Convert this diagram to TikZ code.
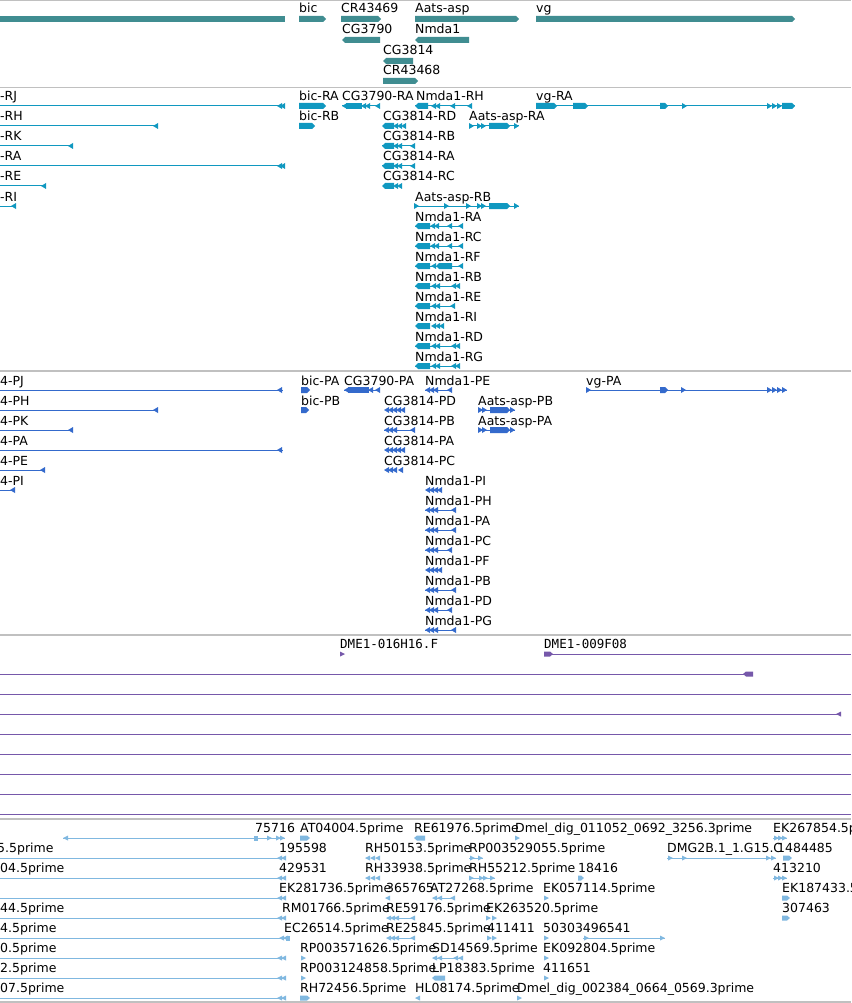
\documentclass[tikz,border=0pt]{standalone}
\usepackage{fontspec}
\newfontfamily\lfam{DejaVu Sans}
\newfontfamily\mfam{DejaVu Sans Mono}
\definecolor{cA}{RGB}{64,141,145}
\definecolor{cB}{RGB}{16,152,192}
\definecolor{cC}{RGB}{52,106,204}
\definecolor{cD}{RGB}{118,88,170}
\definecolor{cE}{RGB}{128,184,224}
\definecolor{sepc}{RGB}{192,192,192}
\def\hh{3}
\def\lo{5}
\newcommand\gIN[3]{\draw[line width=1pt] (#1,#3) -- (#2,#3);}
\newcommand\gEX[3]{\fill (#1,#3-\hh) rectangle (#2,#3+\hh);}
\newcommand\gER[3]{\fill (#1,#3-\hh) -- (#2-3,#3-\hh) -- (#2,#3) -- (#2-3,#3+\hh) -- (#1,#3+\hh) -- cycle;}
\newcommand\gEL[3]{\fill (#1,#3) -- (#1+3,#3-\hh) -- (#2,#3-\hh) -- (#2,#3+\hh) -- (#1+3,#3+\hh) -- cycle;}
\newcommand\gTL[2]{\fill (#1,#2) -- (#1+5,#2-\hh) -- (#1+5,#2+\hh) -- cycle;}
\newcommand\gTR[2]{\fill (#1,#2) -- (#1-5,#2-\hh) -- (#1-5,#2+\hh) -- cycle;}
\newcommand\gLB[3]{\node[lab] (L#1x#2) at (#1,#2-\lo) {#3};}
\newcommand\gLM[3]{\node[mlab] (M#1x#2) at (#1,#2-\lo) {#3};}
% repeated glyphs
\newcommand\cgB[1]{\gIN{382}{415}{#1}\gEL{382}{394}{#1}\gTL{393}{#1}\gTL{397}{#1}\gTL{410}{#1}}
\newcommand\nmA[1]{\gIN{415}{463}{#1}\gEL{415}{430}{#1}\gTL{430}{#1}\gTL{434}{#1}\gTL{447}{#1}\gTL{458}{#1}}
\newcommand\nmB[1]{\gIN{415}{460}{#1}\gEL{415}{430}{#1}\gTL{431}{#1}\gTL{435}{#1}\gTL{451}{#1}\gTL{455}{#1}}
\newcommand\cpD[1]{\gTL{384}{#1}\gTL{388}{#1}\gTL{392}{#1}\gTL{396}{#1}\gTL{400}{#1}}
\newcommand\aaP[1]{\gIN{478}{515}{#1}\gTR{483}{#1}\gTR{487}{#1}\gER{490}{510}{#1}\gTR{515}{#1}}
\newcommand\npL[1]{\gIN{425}{456}{#1}\gTL{425}{#1}\gTL{429}{#1}\gTL{433}{#1}\gTL{451}{#1}}
\newcommand\npM[1]{\gIN{425}{452}{#1}\gTL{425}{#1}\gTL{429}{#1}\gTL{433}{#1}\gTL{447}{#1}}
\newcommand\npS[1]{\gTL{425}{#1}\gTL{429}{#1}\gTL{433}{#1}\gTL{437}{#1}}
\newcommand\esL[1]{\gIN{0}{285}{#1}\gTL{277}{#1}\gTL{281}{#1}}
\begin{document}
\begin{tikzpicture}[x=1pt,y=-1pt,
  lab/.style={anchor=base west,inner sep=0pt,text=black,font=\lfam\fontsize{12.5}{14}\selectfont},
  mlab/.style={anchor=base west,inner sep=0pt,text=black,font=\mfam\fontsize{12.5}{14}\selectfont},
  sepl/.style={draw=sepc,line width=1.2pt}]
\useasboundingbox (0,0) rectangle (851,1003);
\fill[white] (0,0) rectangle (851,1003);
\clip (0,0) rectangle (851,1003);
% separators
\draw[sepl] (0,0.7) -- (851,0.7);
\draw[sepl] (0,87.5) -- (851,87.5);
\draw[sepl] (0,371) -- (851,371);
\draw[sepl] (0,635) -- (851,635);
\draw[sepl] (0,819) -- (851,819);
\draw[sepl] (0,1002) -- (851,1002);
% ---------------- genes
\def\lo{6}
\begin{scope}[color=cA]
\gEX{0}{285}{19}
\gER{299}{326}{19}\gLB{299}{19}{bic}
\gER{341}{381}{19}\gLB{341}{19}{CR43469}
\gER{415}{519}{19}\gLB{415}{19}{Aats-asp}
\gER{536}{795}{19}\gLB{536}{19}{vg}
\gEL{342}{380}{40}\gLB{342}{40}{CG3790}
\gEL{415}{469}{40}\gLB{415}{40}{Nmda1}
\gEL{383}{413}{61}\gLB{383}{61}{CG3814}
\gER{383}{418}{81}\gLB{383}{81}{CR43468}
\end{scope}
% ---------------- transcripts
\def\lo{5}
\begin{scope}[color=cB]
\gIN{0}{285}{106}\gTL{277}{106}\gTL{280}{106}\gLB{0}{106}{-RJ}
\gER{299}{326}{106}\gLB{299}{106}{bic-RA}
\gIN{342}{380}{106}\gTL{342}{106}\gEX{346}{362}{106}\gTL{361}{106}\gTL{365}{106}\gTL{375}{106}\gLB{342}{106}{CG3790-RA}
\gIN{415}{472}{106}\gEL{415}{428}{106}\gTL{431}{106}\gTL{435}{106}\gTL{450}{106}\gTL{467}{106}\gLB{416}{106}{Nmda1-RH}
\gIN{536}{795}{106}\gER{536}{557}{106}\gER{573}{588}{106}\gER{660}{668}{106}\gTR{687}{106}\gTR{772}{106}\gTR{777}{106}\gTR{782}{106}\gER{782}{795}{106}\gLB{536}{106}{vg-RA}
\gIN{0}{158}{126}\gTL{153}{126}\gLB{0}{126}{-RH}
\gER{299}{315}{126}\gLB{299}{126}{bic-RB}
\gEL{382}{394}{126}\gTL{393}{126}\gTL{397}{126}\gTL{401}{126}\gLB{383}{126}{CG3814-RD}
\gIN{469}{519}{126}\gTR{474}{126}\gTR{482}{126}\gTR{486}{126}\gER{489}{510}{126}\gTR{519}{126}\gLB{469}{126}{Aats-asp-RA}
\gIN{0}{73}{146}\gTL{68}{146}\gLB{0}{146}{-RK}
\cgB{146}\gLB{383}{146}{CG3814-RB}
\gIN{0}{285}{166}\gTL{277}{166}\gTL{280}{166}\gLB{0}{166}{-RA}
\cgB{166}\gLB{383}{166}{CG3814-RA}
\gIN{0}{46}{186}\gTL{41}{186}\gLB{0}{186}{-RE}
\gEL{382}{394}{186}\gTL{393}{186}\gTL{397}{186}\gLB{383}{186}{CG3814-RC}
\gIN{0}{16}{206}\gTL{11}{206}\gLB{0}{206}{-RI}
\gIN{414}{519}{206}\gTR{419}{206}\gTR{449}{206}\gTR{471}{206}\gTR{482}{206}\gTR{486}{206}\gER{489}{510}{206}\gTR{519}{206}\gLB{415}{206}{Aats-asp-RB}
\nmA{226}\gLB{415}{226}{Nmda1-RA}
\nmA{246}\gLB{415}{246}{Nmda1-RC}
\gIN{415}{463}{266}\gEL{415}{430}{266}\gTL{431}{266}\gEL{436}{452}{266}\gTL{458}{266}\gLB{415}{266}{Nmda1-RF}
\nmB{286}\gLB{415}{286}{Nmda1-RB}
\gIN{415}{455}{306}\gEL{415}{430}{306}\gTL{431}{306}\gTL{435}{306}\gTL{450}{306}\gLB{415}{306}{Nmda1-RE}
\gEL{415}{430}{326}\gTL{431}{326}\gTL{435}{326}\gTL{439}{326}\gLB{415}{326}{Nmda1-RI}
\nmB{346}\gLB{415}{346}{Nmda1-RD}
\nmB{366}\gLB{415}{366}{Nmda1-RG}
\end{scope}
% ---------------- proteins
\begin{scope}[color=cC]
\gIN{0}{283}{390}\gTL{277}{390}\gLB{0}{390}{4-PJ}
\gER{301}{310}{390}\gLB{301}{390}{bic-PA}
\gIN{344}{380}{390}\gTL{344}{390}\gEX{348}{369}{390}\gTL{368}{390}\gTL{375}{390}\gLB{344}{390}{CG3790-PA}
\gIN{425}{452}{390}\gTL{425}{390}\gTL{429}{390}\gTL{433}{390}\gTL{447}{390}\gLB{425}{390}{Nmda1-PE}
\gIN{586}{787}{390}\gTR{591}{390}\gER{660}{668}{390}\gTR{686}{390}\gTR{772}{390}\gTR{777}{390}\gTR{782}{390}\gTR{787}{390}\gLB{586}{390}{vg-PA}
\gIN{0}{158}{410}\gTL{153}{410}\gLB{0}{410}{4-PH}
\gER{301}{309}{410}\gLB{301}{410}{bic-PB}
\cpD{410}\gLB{384}{410}{CG3814-PD}
\aaP{410}\gLB{478}{410}{Aats-asp-PB}
\gIN{0}{73}{430}\gTL{68}{430}\gLB{0}{430}{4-PK}
\gIN{384}{415}{430}\gTL{384}{430}\gTL{388}{430}\gTL{392}{430}\gTL{410}{430}\gLB{384}{430}{CG3814-PB}
\aaP{430}\gLB{478}{430}{Aats-asp-PA}
\gIN{0}{283}{450}\gTL{277}{450}\gLB{0}{450}{4-PA}
\cpD{450}\gLB{384}{450}{CG3814-PA}
\gIN{0}{45}{470}\gTL{40}{470}\gLB{0}{470}{4-PE}
\gTL{384}{470}\gTL{388}{470}\gTL{392}{470}\gTL{398}{470}\gLB{384}{470}{CG3814-PC}
\gIN{0}{15}{490}\gTL{10}{490}\gLB{0}{490}{4-PI}
\npS{490}\gLB{425}{490}{Nmda1-PI}
\npL{510}\gLB{425}{510}{Nmda1-PH}
\npL{530}\gLB{425}{530}{Nmda1-PA}
\npM{550}\gLB{425}{550}{Nmda1-PC}
\npS{570}\gLB{425}{570}{Nmda1-PF}
\npL{590}\gLB{425}{590}{Nmda1-PB}
\npM{610}\gLB{425}{610}{Nmda1-PD}
\npL{630}\gLB{425}{630}{Nmda1-PG}
\end{scope}
% ---------------- purple
\def\lo{6}
\begin{scope}[color=cD]
\def\hh{2.5}
\gTR{345}{654}\gLM{340}{654}{DME1-016H16.F}
\gIN{544}{851}{654}\gER{544}{553}{654}\gLM{544}{654}{DME1-009F08}
\gIN{0}{752}{674}\gEL{743}{753}{674}
\gIN{0}{851}{694}
\gIN{0}{840}{714}\gTL{836}{714}
\foreach \yy in {734,754,774,794,814}{\gIN{0}{851}{\yy}}
\end{scope}
% ---------------- ESTs
\begin{scope}[color=cE]
\def\hh{2.5}
% row 0
\gIN{63}{285}{838}\gTL{63}{838}\gEX{254}{258}{838}\gTR{272}{838}\gTR{281}{838}\gTR{285}{838}\gLB{255}{838}{75716}
\gER{300}{310}{838}\gLB{300}{838}{AT04004.5prime}
\gEL{414}{425}{838}\gLB{414}{838}{RE61976.5prime}
\gTR{520}{838}\gLB{515}{838}{Dmel\_dig\_011052\_0692\_3256.3prime}
\gIN{773}{787}{838}\gTR{779}{838}\gTR{783}{838}\gTR{787}{838}\gLB{773}{838}{EK267854.5prime}
% row 1
\esL{858}\gLB{-3}{858}{5.5prime}
\gLB{279}{858}{195598}
\gTL{365}{858}\gTL{370}{858}\gTL{375}{858}\gLB{365}{858}{RH50153.5prime}
\gIN{469}{483}{858}\gTR{475}{858}\gTR{483}{858}\gLB{469}{858}{RP003529055.5prime}
\gIN{667}{776}{858}\gTR{673}{858}\gTR{687}{858}\gTR{771}{858}\gTR{776}{858}\gLB{667}{858}{DMG2B.1\_1.G15.C}
\gER{783}{792}{858}\gLB{777}{858}{1484485}
% row 2
\esL{878}\gLB{0}{878}{04.5prime}
\gLB{279}{878}{429531}
\gTL{365}{878}\gTL{370}{878}\gTL{375}{878}\gLB{365}{878}{RH33938.5prime}
\gIN{469}{495}{878}\gTR{474}{878}\gTR{484}{878}\gTR{488}{878}\gTR{495}{878}\gLB{469}{878}{RH55212.5prime}
\gER{578}{584}{878}\gLB{578}{878}{18416}
\gIN{773}{787}{878}\gTR{779}{878}\gTR{783}{878}\gTR{787}{878}\gLB{773}{878}{413210}
% row 3
\esL{898}
\gLB{279}{898}{EK281736.5prime}
\gTL{385}{898}\gLB{386}{898}{365765}
\gTL{432}{898}\gTL{437}{898}\gIN{437}{455}{898}\gTL{450}{898}\gLB{430}{898}{AT27268.5prime}
\gTR{549}{898}\gLB{543}{898}{EK057114.5prime}
\gER{782}{790}{898}\gLB{782}{898}{EK187433.5prime}
% row 4
\esL{918}\gLB{0}{918}{44.5prime}
\gLB{282}{918}{RM01766.5prime}
\gTL{386}{918}\gTL{390}{918}\gTL{394}{918}\gIN{394}{415}{918}\gTL{410}{918}\gLB{386}{918}{RE59176.5prime}
\gTR{491}{918}\gTR{497}{918}\gLB{486}{918}{EK263520.5prime}
\gER{782}{790}{918}\gLB{782}{918}{307463}
% row 5
\gIN{0}{290}{938}\gTL{279}{938}\gTL{283}{938}\gEX{286}{290}{938}\gLB{0}{938}{4.5prime}
\gLB{284}{938}{EC26514.5prime}
\gTL{386}{938}\gTL{390}{938}\gTL{394}{938}\gIN{394}{415}{938}\gTL{410}{938}\gLB{386}{938}{RE25845.5prime}
\gTR{492}{938}\gTR{497}{938}\gLB{487}{938}{411411}
\gTR{549}{938}\gLB{543}{938}{50303496541}
\gIN{583}{665}{938}\gTR{589}{938}\gTR{665}{938}
% row 6
\esL{958}\gLB{0}{958}{0.5prime}
\gTR{306}{958}\gLB{300}{958}{RP003571626.5prime}
\gTL{432}{958}\gTL{437}{958}\gIN{437}{463}{958}\gTL{453}{958}\gTL{458}{958}\gLB{432}{958}{SD14569.5prime}
\gTR{549}{958}\gLB{543}{958}{EK092804.5prime}
% row 7
\esL{978}\gLB{0}{978}{2.5prime}
\gTR{306}{978}\gLB{300}{978}{RP003124858.5prime}
\gEL{432}{445}{978}\gLB{432}{978}{LP18383.5prime}
\gTR{549}{978}\gLB{543}{978}{411651}
% row 8
\esL{998}\gLB{0}{998}{07.5prime}
\gER{300}{310}{998}\gLB{300}{998}{RH72456.5prime}
\gTL{415}{998}\gLB{415}{998}{HL08174.5prime}
\gTR{522}{998}\gLB{517}{998}{Dmel\_dig\_002384\_0664\_0569.3prime}
\end{scope}
\end{tikzpicture}
\end{document}
